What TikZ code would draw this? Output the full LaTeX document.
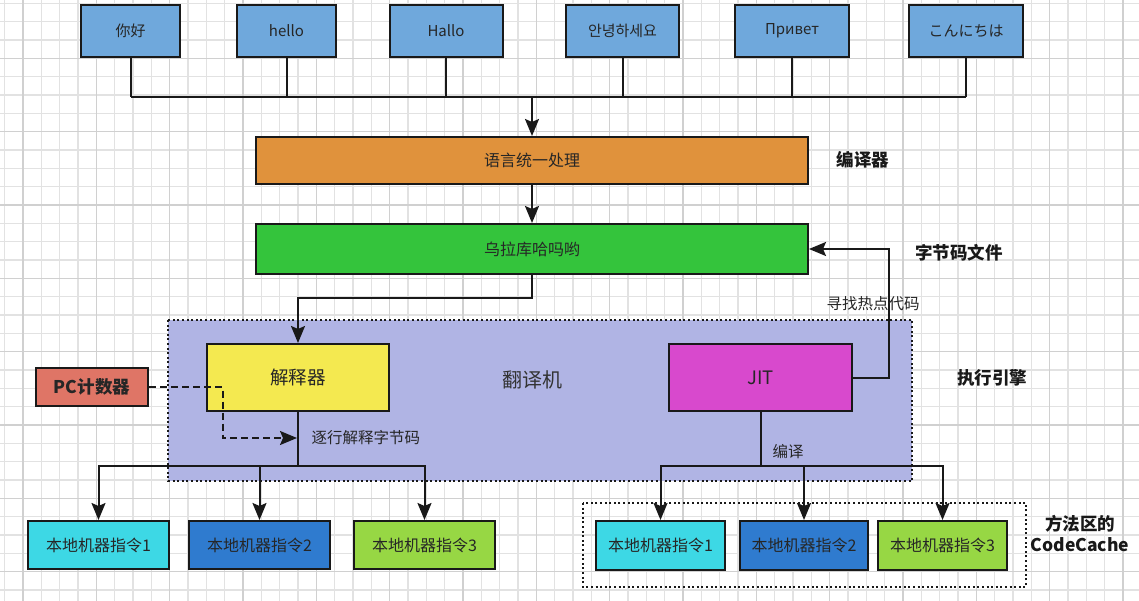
\documentclass[tikz,border=0pt]{standalone}
\usepackage{fontspec}
\setmainfont{Noto Sans CJK SC}
\newfontfamily\krfont{Noto Sans CJK KR}
\newfontfamily\jpfont{Noto Sans CJK JP}
\usetikzlibrary{arrows.meta}
\definecolor{langblue}{HTML}{6FA8DC}
\definecolor{unifyorange}{HTML}{E0923C}
\definecolor{ulagreen}{HTML}{34C43C}
\definecolor{enginelav}{HTML}{B0B4E4}
\definecolor{interpyellow}{HTML}{F4E950}
\definecolor{jitmagenta}{HTML}{D849CD}
\definecolor{pcsalmon}{HTML}{DF7566}
\definecolor{mlcyan}{HTML}{3DD8E5}
\definecolor{mlblue}{HTML}{2F7BCF}
\definecolor{mlgreen}{HTML}{97D744}
\definecolor{gridminor}{HTML}{E2E2E2}
\definecolor{gridmajor}{HTML}{D0D0D0}
\tikzset{
  box/.style={draw=black!90, line width=2pt, text=black!85, inner sep=0pt, font=\fontsize{15}{18}\selectfont},
  langbox/.style={box, fill=langblue, minimum height=52pt},
  mlbox/.style={box, minimum width=141pt, minimum height=48pt, font=\fontsize{16}{19}\selectfont},
  conn/.style={draw=black!90, line width=2pt},
  arrowconn/.style={conn, -{Stealth[length=17pt,width=14pt,inset=3pt]}},
  dasharrow/.style={arrowconn, dash pattern=on 7pt off 4pt},
  dotline/.style={draw=black!90, line width=2pt, dash pattern=on 2pt off 2.6pt},
  caption/.style={text=black!85, font=\fontsize{15.5}{18}\selectfont},
  boldcaption/.style={text=black!90, font=\fontsize{17.5}{21}\selectfont\bfseries}
}
\begin{document}
\begin{tikzpicture}[x=1pt, y=-1pt]
\useasboundingbox (0,0) rectangle (1139,601);
\fill[white] (0,0) rectangle (1139,601);
\foreach \i in {0,...,61}
  \draw[gridminor, line width=1.2pt] ({4.67+18.333*\i},0) -- ({4.67+18.333*\i},601);
\foreach \j in {0,...,32}
  \draw[gridminor, line width=1.2pt] (0,{3.33+18.333*\j}) -- (1139,{3.33+18.333*\j});
\foreach \i in {1,5,...,61}
  \draw[gridmajor, line width=1.4pt] ({4.67+18.333*\i},0) -- ({4.67+18.333*\i},601);
\foreach \j in {3,7,...,31}
  \draw[gridmajor, line width=1.4pt] (0,{3.33+18.333*\j}) -- (1139,{3.33+18.333*\j});

\node[langbox, minimum width=99pt] (nihao) at (130.5,31) {你好};
\node[langbox, minimum width=99pt] (hello) at (286.5,31) {hello};
\node[langbox, minimum width=113pt] (hallo) at (446,31) {Hallo};
\node[langbox, minimum width=113pt] (annyeong) at (622.5,31) {\krfont 안녕하세요};
\node[langbox, minimum width=114pt] (privet) at (792,31) {Привет};
\node[langbox, minimum width=114pt] (konnichiwa) at (966,31) {\jpfont こんにちは};

\coordinate (bus) at (532,97);
\foreach \n in {nihao,hello,hallo,annyeong,privet,konnichiwa}
  \draw[conn] (\n.south) -- (\n.south |- bus);
\draw[conn] (nihao.south |- bus) -- (konnichiwa.south |- bus);

\node[box, fill=unifyorange, minimum width=552pt, minimum height=47pt, font=\fontsize{16}{19}\selectfont] (unify) at (532,160.5) {语言统一处理};
\node[box, fill=ulagreen, minimum width=552pt, minimum height=50pt, font=\fontsize{16}{19}\selectfont] (ulaku) at (532,249) {乌拉库哈吗哟};
\node[boldcaption] (compiler) at (863,160) {编译器};
\draw[arrowconn] (bus) -- (unify.north);
\draw[arrowconn] (unify.south) -- (ulaku.north);

\draw[dotline, fill=enginelav] (168,320) rectangle (912,481);
\node[box, fill=interpyellow, minimum width=182pt, minimum height=67pt, font=\fontsize{18.5}{22}\selectfont] (interp) at (298,377.5) {解释器};
\node[box, fill=jitmagenta, minimum width=183pt, minimum height=67pt, font=\fontsize{18.5}{22}\selectfont] (jit) at (760.5,377.5) {JIT};
\node[text=black!80, font=\fontsize{20}{24}\selectfont] (translator) at (532,380) {翻译机};
\node[boldcaption] (engine) at (992,378) {执行引擎};
\node[box, fill=pcsalmon, minimum width=112pt, minimum height=38pt, font=\fontsize{17.5}{21}\selectfont\bfseries] (pc) at (92,387) {PC计数器};

\draw[arrowconn] (ulaku.south) -- ++(0,23) -| (interp.north);
\draw[arrowconn] (jit.east) -- ++(36,0) |- (ulaku.east);
\node[boldcaption] (bytecode) at (959,253) {字节码文件};
\node[caption] (hotspot) at (873,304) {寻找热点代码};

\coordinate (pcbend) at (222.5,387);
\coordinate (readpt) at (297,438);
\draw[dasharrow] (pc.east) -- (pcbend) |- (readpt);
\node[caption, anchor=west] (readline) at (308,438) {逐行解释字节码};
\node[caption] (compile) at (788,452) {编译};

\node[mlbox, fill=mlcyan] (mlA) at (98.5,545) {本地机器指令1};
\node[mlbox, fill=mlblue] (mlB) at (259.5,545) {本地机器指令2};
\node[mlbox, fill=mlgreen] (mlC) at (424.5,545) {本地机器指令3};
\foreach \m in {mlA,mlB,mlC}
  \draw[arrowconn] (interp.south) -- ++(0,54) -| (\m.north);

\draw[dotline] (583,503) rectangle (1026,587);
\node[mlbox, fill=mlcyan, minimum width=129pt, minimum height=49pt] (mrA) at (660.5,545.5) {本地机器指令1};
\node[mlbox, fill=mlblue, minimum width=128pt, minimum height=49pt] (mrB) at (804,545.5) {本地机器指令2};
\node[mlbox, fill=mlgreen, minimum width=129pt, minimum height=49pt] (mrC) at (942.5,545.5) {本地机器指令3};
\foreach \m in {mrA,mrB,mrC}
  \draw[arrowconn] (jit.south) -- ++(0,54) -| (\m.north);
\node[boldcaption, align=center] (codecache) at (1080,533) {方法区的\\CodeCache};
\end{tikzpicture}
\end{document}
